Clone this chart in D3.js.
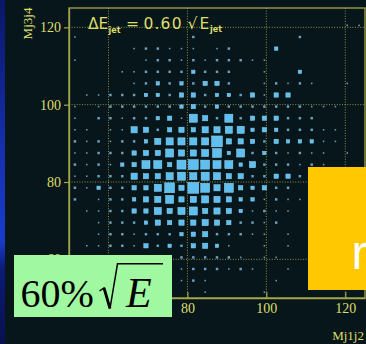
<!DOCTYPE html>
<html><head><meta charset="utf-8">
<script src="https://cdn.jsdelivr.net/npm/d3@7"></script>
<style>html,body{margin:0;padding:0;background:#06161a;overflow:hidden}svg{display:block}</style>
</head><body>
<script>
// Dijet mass plane: Mj1j2 vs Mj3j4, 3 GeV bins from 50 to 125
const binEdges = d3.range(50, 126, 3);
const xTicks = [60, 80, 100, 120];
const yTicks = [60, 80, 100, 120];
const xTitle = "Mj1j2";
const yTitle = "Mj3j4";
const resolutionLabel = "60%";

// entries per bin, top row (Mj3j4 = 122-125) first, columns Mj1j2 = 50 .. 125
const counts = [
  [0,0,0,0,0,0,0,0,0,0,0,0,0,0,0,0,0,0,0,0,0,0,0,0,0],
  [0,0,0,0,0,0,0,0,0,0,0,0,0,0,0,0,0,0,0,0,0,0,0,1,1],
  [1,0,0,0,0,0,0,0,0,0,2,0,0,0,0,0,0,0,0,2,0,0,0,0,0],
  [0,0,0,0,0,1,2,2,1,1,1,0,1,2,0,0,0,3,0,0,0,0,0,0,0],
  [1,0,0,0,0,0,1,2,2,1,2,1,2,2,2,1,1,0,0,0,0,0,0,0,0],
  [0,0,0,0,1,1,2,2,2,2,3,2,2,2,0,0,1,0,0,3,0,0,0,0,0],
  [0,0,0,0,0,1,2,3,2,3,2,4,4,2,0,0,1,2,1,2,1,0,0,1,0],
  [0,1,1,2,2,2,3,3,2,4,4,2,3,3,2,4,1,4,4,0,0,0,0,0,0],
  [1,0,1,2,2,2,2,2,2,3,4,2,3,2,2,2,2,2,2,2,1,1,1,0,0],
  [1,0,2,2,1,2,2,3,4,1,8,5,2,8,2,4,4,4,2,2,2,0,0,0,0],
  [1,1,0,1,1,6,5,2,4,5,4,6,6,7,7,3,4,3,2,2,2,1,1,0,0],
  [2,1,2,1,2,2,3,6,7,7,7,7,11,5,5,4,2,4,3,3,3,1,1,0,0],
  [1,1,2,2,2,4,5,5,8,6,6,7,9,3,8,2,3,2,1,2,1,1,0,1,0],
  [2,1,2,1,3,4,8,8,4,9,10,9,8,8,3,6,2,2,2,1,2,1,0,0,0],
  [1,1,2,2,2,6,5,5,7,8,7,8,7,5,5,2,2,4,4,2,0,0,0,0,0],
  [2,1,3,2,2,4,4,7,10,5,11,9,6,9,4,3,4,2,2,0,0,0,0,0,0],
  [2,0,1,2,2,3,5,6,8,5,6,7,6,5,3,3,1,2,1,1,0,0,0,0,0],
  [0,1,1,2,2,4,4,7,5,7,8,5,6,5,3,1,2,1,1,0,0,0,0,0,0],
  [0,0,1,2,2,2,3,5,4,5,5,6,5,4,2,2,1,2,0,0,0,0,0,0,0],
  [0,0,1,2,2,1,2,2,2,3,4,5,2,2,2,1,1,0,1,0,0,0,0,0,0],
  [0,1,1,2,2,1,4,2,3,2,4,5,3,1,0,0,1,0,1,0,0,0,0,0,0],
  [0,0,0,1,2,2,2,2,2,2,2,2,2,2,1,0,1,1,0,0,0,0,0,0,0],
  [0,0,0,0,0,1,1,1,1,1,2,2,2,1,2,1,0,0,1,0,0,0,0,0,0],
  [0,0,0,0,0,0,0,1,0,1,2,1,0,0,0,0,0,1,0,0,0,0,0,0,0],
  [0,0,0,0,0,0,0,0,0,0,0,1,0,0,0,0,1,0,0,0,0,0,0,0,0]
];

const W = 366, H = 344;
const x = d3.scaleLinear().domain([50, 125]).range([69, 365]);
const y = d3.scaleLinear().domain([50, 125]).range([298, 8]);
const binW = x(binEdges[1]) - x(binEdges[0]);
const side = d3.scaleLinear().domain([0, 12]).range([0.6, binW]);

const yellow = "#dede6a", axisCol = "#a6a64c";

const svg = d3.select("body").append("svg").attr("width", W).attr("height", H);
const defs = svg.append("defs");
const g1 = defs.append("linearGradient").attr("id", "edge").attr("x1", 0).attr("y1", 0).attr("x2", 0).attr("y2", 1);
[["0", "#0a1668"], ["0.45", "#1630b0"], ["0.7", "#1a3ccc"], ["0.78", "#0c1a78"], ["1", "#08104e"]]
  .forEach(([o, c]) => g1.append("stop").attr("offset", o).attr("stop-color", c));
defs.append("clipPath").attr("id", "plot").append("rect")
  .attr("x", x(50)).attr("y", y(125)).attr("width", x(125) - x(50)).attr("height", y(50) - y(125));

svg.append("rect").attr("width", W).attr("height", H).attr("fill", "#06161a");
svg.append("rect").attr("width", 5).attr("height", H).attr("fill", "url(#edge)");

// dotted grid
const grid = svg.append("g").attr("stroke", "#b4b450").attr("stroke-width", 0.8).attr("stroke-dasharray", "1,1.6");
grid.selectAll(".gx").data(xTicks).join("line")
  .attr("x1", d => x(d)).attr("x2", d => x(d)).attr("y1", y(125)).attr("y2", y(50));
grid.selectAll(".gy").data(yTicks).join("line")
  .attr("y1", d => y(d)).attr("y2", d => y(d)).attr("x1", x(50)).attr("x2", x(125));

// box histogram
const cells = [];
counts.forEach((row, i) => {
  const r = counts.length - 1 - i;
  row.forEach((v, c) => { if (v > 0) cells.push({ c, r, v }); });
});
svg.append("g").attr("clip-path", "url(#plot)")
  .selectAll("rect").data(cells).join("rect")
  .attr("x", d => (x(binEdges[d.c]) + x(binEdges[d.c + 1])) / 2 - side(d.v) / 2)
  .attr("y", d => (y(binEdges[d.r]) + y(binEdges[d.r + 1])) / 2 - side(d.v) / 2)
  .attr("width", d => side(d.v)).attr("height", d => side(d.v))
  .attr("fill", d => d.v <= 2 ? "#6d9fbd" : "#5fbfee")
  .attr("stroke", d => d.v <= 2 ? "none" : "#8fd4f6").attr("stroke-width", 0.5);

// frame
svg.append("rect").attr("x", x(50)).attr("y", y(125)).attr("width", x(125) - x(50)).attr("height", y(50) - y(125))
  .attr("fill", "none").attr("stroke", axisCol).attr("stroke-width", 1.3);

// axes
const ax = svg.append("g").attr("transform", `translate(0,${y(50)})`)
  .call(d3.axisBottom(x).tickValues(xTicks).tickSizeInner(-6).tickSizeOuter(0).tickPadding(5));
const ay = svg.append("g").attr("transform", `translate(${x(50)},0)`)
  .call(d3.axisLeft(y).tickValues(yTicks).tickSizeInner(5).tickSizeOuter(0).tickPadding(3));
[ax, ay].forEach(a => {
  a.select(".domain").attr("stroke", axisCol).attr("stroke-width", 1.3);
  a.selectAll(".tick line").attr("stroke", axisCol).attr("stroke-width", 1.2);
  a.selectAll(".tick text").attr("fill", yellow).attr("font-family", "Liberation Serif").attr("font-size", 14);
});

svg.append("text").attr("x", 364).attr("y", 339.5).attr("text-anchor", "end")
  .attr("font-family", "Liberation Serif").attr("font-size", 13).attr("fill", yellow).text(xTitle);
svg.append("text").attr("transform", "translate(31.5,23.5) rotate(-90)").attr("text-anchor", "middle")
  .attr("font-family", "Liberation Serif").attr("font-size", 13).attr("fill", yellow).text(yTitle);

// resolution formula in the plot header
const t = svg.append("text").attr("font-family", "DejaVu Sans").attr("fill", yellow).attr("font-size", 15.5);
t.append("tspan").attr("x", 88).attr("y", 28.5).text("ΔE");
t.append("tspan").attr("x", 108.5).attr("y", 33).attr("font-size", 8).attr("font-weight", "bold").text("jet");
t.append("tspan").attr("x", 126).attr("y", 28.5).text("=");
t.append("tspan").attr("x", 143.5).attr("y", 28.5).attr("textLength", 38).text("0.60");
t.append("tspan").attr("x", 187.5).attr("y", 28.5).text("√");
t.append("tspan").attr("x", 199.5).attr("y", 28.5).text("E");
t.append("tspan").attr("x", 210).attr("y", 32).attr("font-size", 8).attr("font-weight", "bold").text("jet");

// green label: 60% sqrt(E)
svg.append("rect").attr("x", 14).attr("y", 255).attr("width", 158).attr("height", 62).attr("fill", "#a0f8a0");
svg.append("text").attr("x", 20.5).attr("y", 307).attr("font-family", "Liberation Serif").attr("font-size", 40)
  .attr("fill", "#000").text(resolutionLabel);
svg.append("path").attr("d", "M99.5,291 L104,288 L110,308.5 L117.5,263.8 L163,263.8")
  .attr("fill", "none").attr("stroke", "#000").attr("stroke-width", 1.5).attr("stroke-linejoin", "miter");
svg.append("path").attr("d", "M104,288 L110,308.5").attr("stroke", "#000").attr("stroke-width", 2.8);
svg.append("text").attr("x", 126).attr("y", 307).attr("font-family", "Liberation Serif").attr("font-style", "italic")
  .attr("font-size", 42).attr("fill", "#000").text("E");

// yellow panel on the right
svg.append("rect").attr("x", 308).attr("y", 167).attr("width", 58).attr("height", 123).attr("fill", "#ffc800");
svg.append("text").attr("x", 351.5).attr("y", 268.7).attr("font-family", "Liberation Sans").attr("font-size", 48)
  .attr("fill", "#fff").text("r");
</script>
</body></html>
